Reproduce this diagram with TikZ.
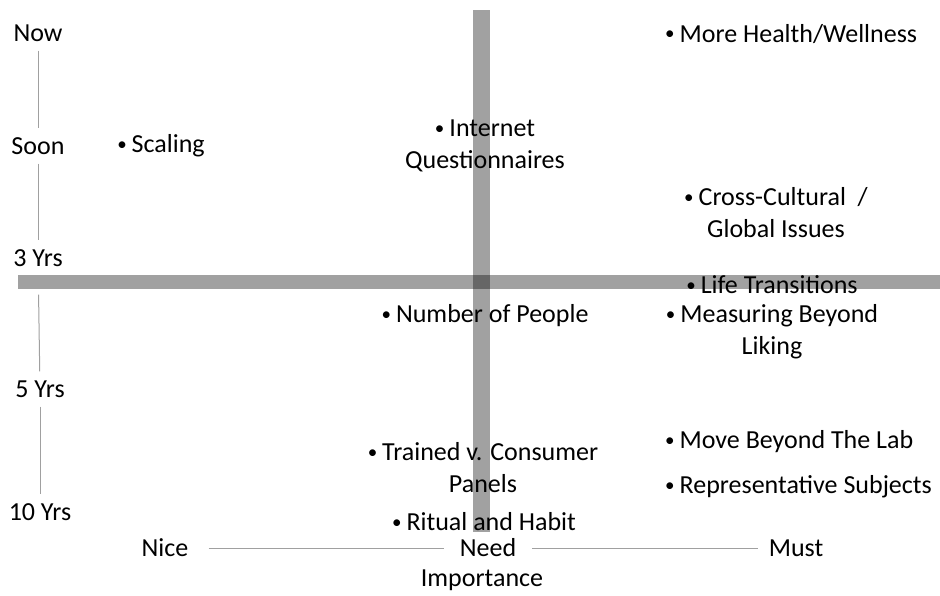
\documentclass[tikz,border=0pt]{standalone}
\usepackage{fontspec}
\setmainfont{Carlito}
\usetikzlibrary{positioning}
\definecolor{axisgray}{RGB}{160,160,160}
\newcommand{\bul}{\raisebox{2.5pt}{\fontsize{19}{19}\selectfont•}\hspace{5pt}}
\tikzstyle{every node}=[font=\fontsize{26}{32}\selectfont, text=black]
\tikzstyle{tick}=[inner xsep=2pt, inner ysep=9pt, text height=17pt, text depth=0pt]
\tikzstyle{item}=[align=center, inner sep=0pt]
\tikzstyle{guide}=[draw=axisgray, line width=1pt]
\tikzstyle{bar}=[fill=black, opacity=0.37]

\begin{document}
\begin{tikzpicture}[x=1pt, y=-1pt, node distance=1cm]
    \useasboundingbox (0,0) rectangle (940,596);
    % the two crossing bars
    \fill[bar] (473,10) rectangle (490,532);
    \fill[bar] (18,275) rectangle (940,289);
    % time axis
    \node[tick] (now) at (38,33) {Now};
    \node[tick] (soon) at (38,146) {Soon};
    \node[tick] (yrs3) at (38,258) {3 Yrs};
    \node[tick] (yrs5) at (40,389) {5 Yrs};
    \node[tick] (yrs10) at (40,512) {10 Yrs};
    \draw[guide] (now) -- (soon);
    \draw[guide] (soon) -- (yrs3);
    \draw[guide, shorten <=19pt] (yrs3) -- (yrs5);
    \draw[guide] (yrs5) -- (yrs10);
    % importance axis
    \node[tick, inner xsep=20pt] (nice) at (165,548) {Nice};
    \node[tick, inner xsep=16pt, right of=nice, node distance=323pt] (need) {Need};
    \node[tick, inner xsep=11pt, right of=need, node distance=308pt] (must) {Must};
    \node[below of=need, node distance=32pt, xshift=-6pt] (imp) {Importance};
    \draw[guide] (nice) -- (need);
    \draw[guide] (need) -- (must);
    % topics
    \node[item] (scal) at (161,146) {\bul Scaling};
    \node[item] (inet) at (485,146) {\bul Internet\\Questionnaires};
    \node[item, anchor=west] (health) at (665,34) {\bul More Health/Wellness};
    \node[item] (cross) at (776,213) {\bul Cross-Cultural\ \ /\\Global Issues};
    \node[item] (life) at (772,285) {\bul Life Transitions};
    \node[item] (meas) at (772,332) {\bul Measuring Beyond\\Liking};
    \node[item] (ppl) at (485,316) {\bul Number of People};
    \node[item] (panel) at (483,468) {\bul Trained v. Consumer\\Panels};
    \node[item] (ritual) at (484,522) {\bul Ritual and Habit};
    \node[item, anchor=west] (lab) at (665,442) {\bul Move Beyond The Lab};
    \node[item, anchor=west] (subj) at (665,487) {\bul Representative Subjects};
\end{tikzpicture}
\end{document}
